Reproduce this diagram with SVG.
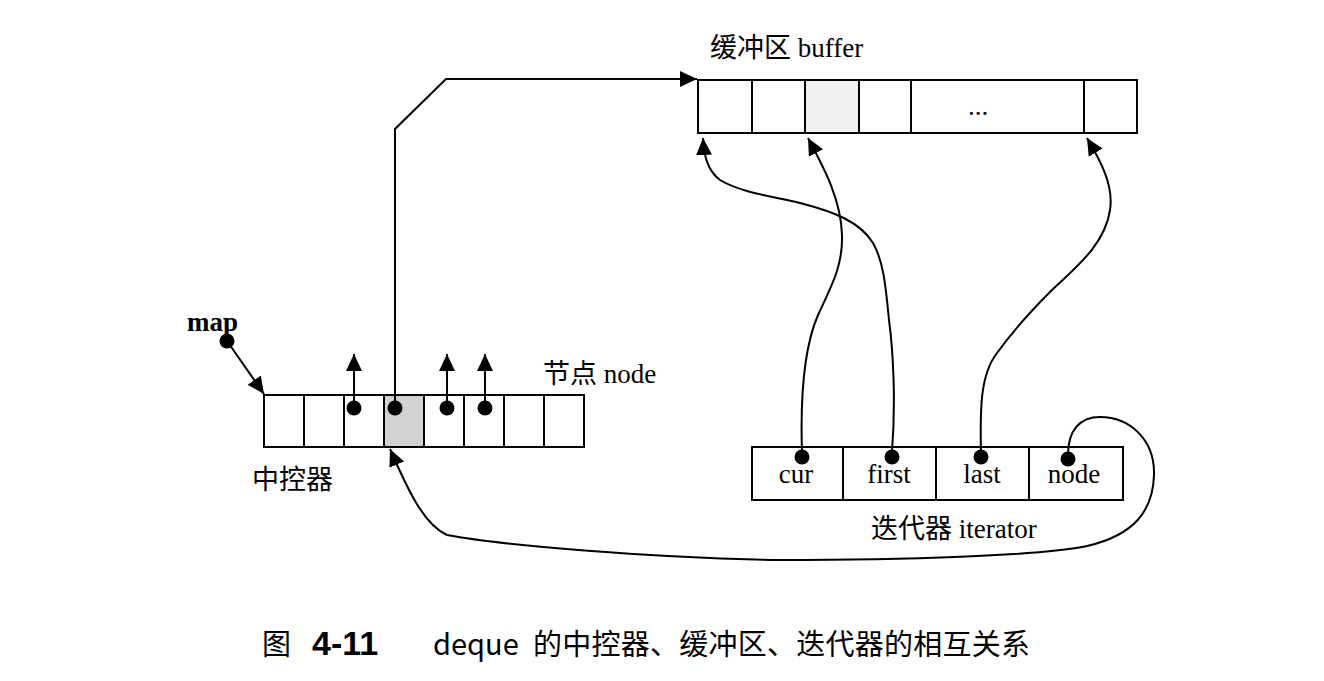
<svg xmlns="http://www.w3.org/2000/svg" width="1324" height="681" viewBox="0 0 1324 681">
<style>
.box{fill:#fff;stroke:#000;stroke-width:2}
.div{stroke:#000;stroke-width:2}
.lbl{font-family:"Liberation Serif","Noto Sans CJK SC",serif;font-size:27px;fill:#000}
.cap{font-family:"Noto Sans CJK SC","Liberation Sans",sans-serif;font-size:29px;fill:#000}
.ln{fill:none;stroke:#000;stroke-width:2}
.dot{fill:#000}
</style>
<defs>
<marker id="ah" markerUnits="userSpaceOnUse" markerWidth="18" markerHeight="18" refX="17" refY="8" orient="auto" viewBox="0 0 18 16">
<path d="M0,0 L17,8 L0,16 z" fill="#000"/>
</marker>
</defs>
<rect width="1324" height="681" fill="#fff"/>

<g id="buffer">
<rect class="box" x="698" y="80" width="439" height="53"/>
<rect x="805" y="81" width="54" height="51" fill="#f1f1f1"/>
<line class="div" x1="752" y1="80" x2="752" y2="133"/>
<line class="div" x1="805" y1="80" x2="805" y2="133"/>
<line class="div" x1="859" y1="80" x2="859" y2="133"/>
<line class="div" x1="911" y1="80" x2="911" y2="133"/>
<line class="div" x1="1084" y1="80" x2="1084" y2="133"/>
<text class="lbl" x="978" y="115" text-anchor="middle" font-size="18">...</text>
<text class="lbl" x="710" y="57">缓冲区 buffer</text>
</g>

<g id="map">
<rect class="box" x="264" y="395" width="320" height="52"/>
<rect x="385" y="396" width="38" height="50" fill="#d2d2d2"/>
<line class="div" x1="304" y1="395" x2="304" y2="447"/>
<line class="div" x1="344" y1="395" x2="344" y2="447"/>
<line class="div" x1="384" y1="395" x2="384" y2="447"/>
<line class="div" x1="424" y1="395" x2="424" y2="447"/>
<line class="div" x1="464" y1="395" x2="464" y2="447"/>
<line class="div" x1="504" y1="395" x2="504" y2="447"/>
<line class="div" x1="544" y1="395" x2="544" y2="447"/>
<text class="lbl" x="543" y="383" font-size="26">节点 node</text>
<text class="lbl" x="252" y="489">中控器</text>
</g>

<g id="map-pointer">
<text class="lbl" x="187" y="331" font-weight="bold" font-size="26">map</text>
<circle class="dot" cx="227" cy="341" r="7.5"/>
</g>

<g id="iterator">
<rect class="box" x="752" y="447" width="371" height="53"/>
<line class="div" x1="843" y1="447" x2="843" y2="500"/>
<line class="div" x1="936" y1="447" x2="936" y2="500"/>
<line class="div" x1="1029" y1="447" x2="1029" y2="500"/>
<text class="lbl" x="796" y="483" text-anchor="middle">cur</text>
<text class="lbl" x="889" y="483" text-anchor="middle">first</text>
<text class="lbl" x="982" y="483" text-anchor="middle">last</text>
<text class="lbl" x="1074" y="483" text-anchor="middle">node</text>
<text class="lbl" x="871" y="538">迭代器 iterator</text>
</g>

<g id="connectors">
<line class="ln" x1="227" y1="341" x2="264" y2="394" marker-end="url(#ah)"/>
<line class="ln" x1="354" y1="408" x2="354" y2="354" marker-end="url(#ah)"/>
<line class="ln" x1="447" y1="408" x2="447" y2="354" marker-end="url(#ah)"/>
<line class="ln" x1="485" y1="408" x2="485" y2="354" marker-end="url(#ah)"/>
<path class="ln" d="M395,408 L395,129 L446,79 L697,79" marker-end="url(#ah)"/>
<path class="ln" d="M802,452 C800,390 805,345 818,315 C832,285 843,265 842,235 C841,200 825,170 808,138" marker-end="url(#ah)"/>
<path class="ln" d="M892,452 C896,400 893,350 889,320 C886,290 884,262 873,243 C860,222 835,212 800,203 C770,196 740,192 720,180 C707,170 704,155 703,138" marker-end="url(#ah)"/>
<path class="ln" d="M981,452 C980,410 980,375 997,353 C1010,335 1030,312 1050,292 C1075,268 1105,245 1110,210 C1114,185 1100,160 1087,138" marker-end="url(#ah)"/>
<path class="ln" d="M1068,455 C1068,430 1080,417 1100,417 C1130,417 1155,440 1154,475 C1153,510 1135,535 1087,546 C1040,556 900,560 780,560 C650,558 500,545 447,535 C425,525 410,495 390,449" marker-end="url(#ah)"/>
<circle class="dot" cx="354" cy="408" r="7.5"/>
<circle class="dot" cx="395" cy="408" r="7.5"/>
<circle class="dot" cx="447" cy="408" r="7.5"/>
<circle class="dot" cx="485" cy="408" r="7.5"/>
<circle class="dot" cx="802" cy="457" r="7.5"/>
<circle class="dot" cx="892" cy="457" r="7.5"/>
<circle class="dot" cx="981" cy="457" r="7.5"/>
<circle class="dot" cx="1068" cy="459" r="7.5"/>
</g>

<g id="caption">
<text class="cap" y="655"><tspan x="262">图</tspan><tspan x="312" font-family="Liberation Sans" font-weight="bold" font-size="34">4-11</tspan><tspan x="433">deque</tspan><tspan x="533" textLength="497" lengthAdjust="spacing">的中控器、缓冲区、迭代器的相互关系</tspan></text>
</g>
</svg>
